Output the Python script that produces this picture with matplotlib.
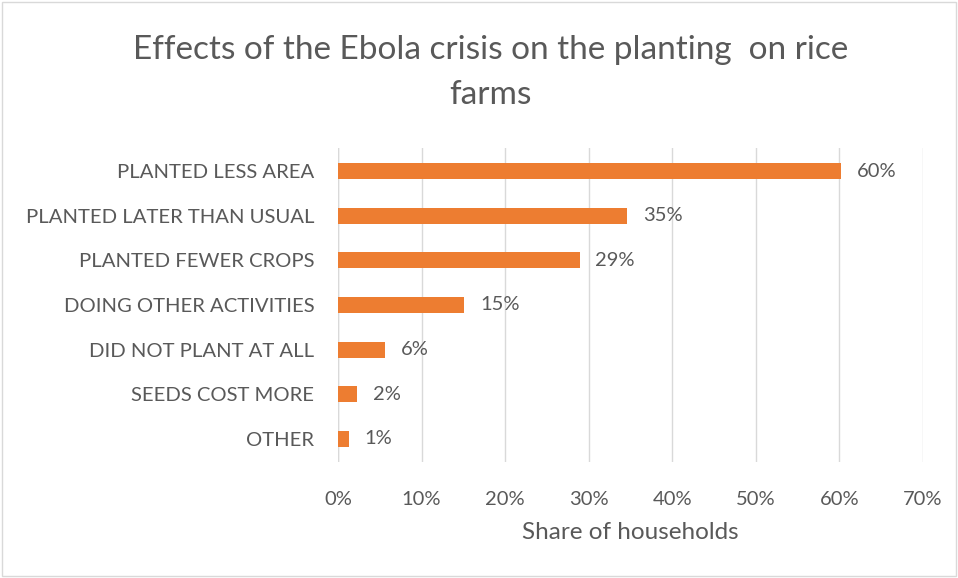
import matplotlib.pyplot as plt
import matplotlib.patches as mpatches

categories = ['PLANTED LESS AREA', 'PLANTED LATER THAN USUAL', 'PLANTED FEWER CROPS',
              'DOING OTHER ACTIVITIES', 'DID NOT PLANT AT ALL', 'SEEDS COST MORE', 'OTHER']
shares = [60.2, 34.6, 28.9, 15.1, 5.6, 2.3, 1.3]
xticks = [0, 10, 20, 30, 40, 50, 60, 70]

plt.rcParams['font.family'] = ['Lato', 'DejaVu Sans']
txt = '#595959'
orange = '#ed7d31'

fig = plt.figure(figsize=(9.58, 5.78), dpi=100)
ax = fig.add_axes([338/958, 1 - 462/578, 585/958, 314/578])

y = range(len(categories))
ax.barh(y, shares, height=0.36, color=orange, zorder=3)
for i, v in zip(y, shares):
    ax.text(v + 1.9, i, f'{round(v)}%', va='center', ha='left', fontsize=14.5, color=txt)

ax.set_ylim(6.515, -0.515)
ax.set_xlim(0, 70)
ax.set_yticks(list(y))
ax.set_yticklabels(categories, fontsize=14.6, color=txt)
ax.set_xticks(xticks)
ax.set_xticklabels([f'{t}%' for t in xticks], fontsize=14.5, color=txt)
ax.tick_params(length=0)
ax.tick_params(axis='y', pad=17)
ax.tick_params(axis='x', pad=21)
ax.grid(axis='x', color='#d9d9d9', lw=1, zorder=0)
for s in ax.spines.values():
    s.set_visible(False)
ax.axvline(0, color='#d9d9d9', lw=1, zorder=0)
ax.set_xlabel('Share of households', fontsize=17.5, color=txt, labelpad=10)

fig.text(0.512, 1 - 50/578, 'Effects of the Ebola crisis on the planting  on rice',
         ha='center', va='center', fontsize=24, color=txt)
fig.text(0.512, 1 - 95/578, 'farms', ha='center', va='center', fontsize=24, color=txt)

fig.patches.append(mpatches.Rectangle((0.002, 0.003), 0.996, 0.994, transform=fig.transFigure,
                                      fill=False, edgecolor='#d9d9d9', lw=1))

fig.savefig('out.png', dpi=100)
